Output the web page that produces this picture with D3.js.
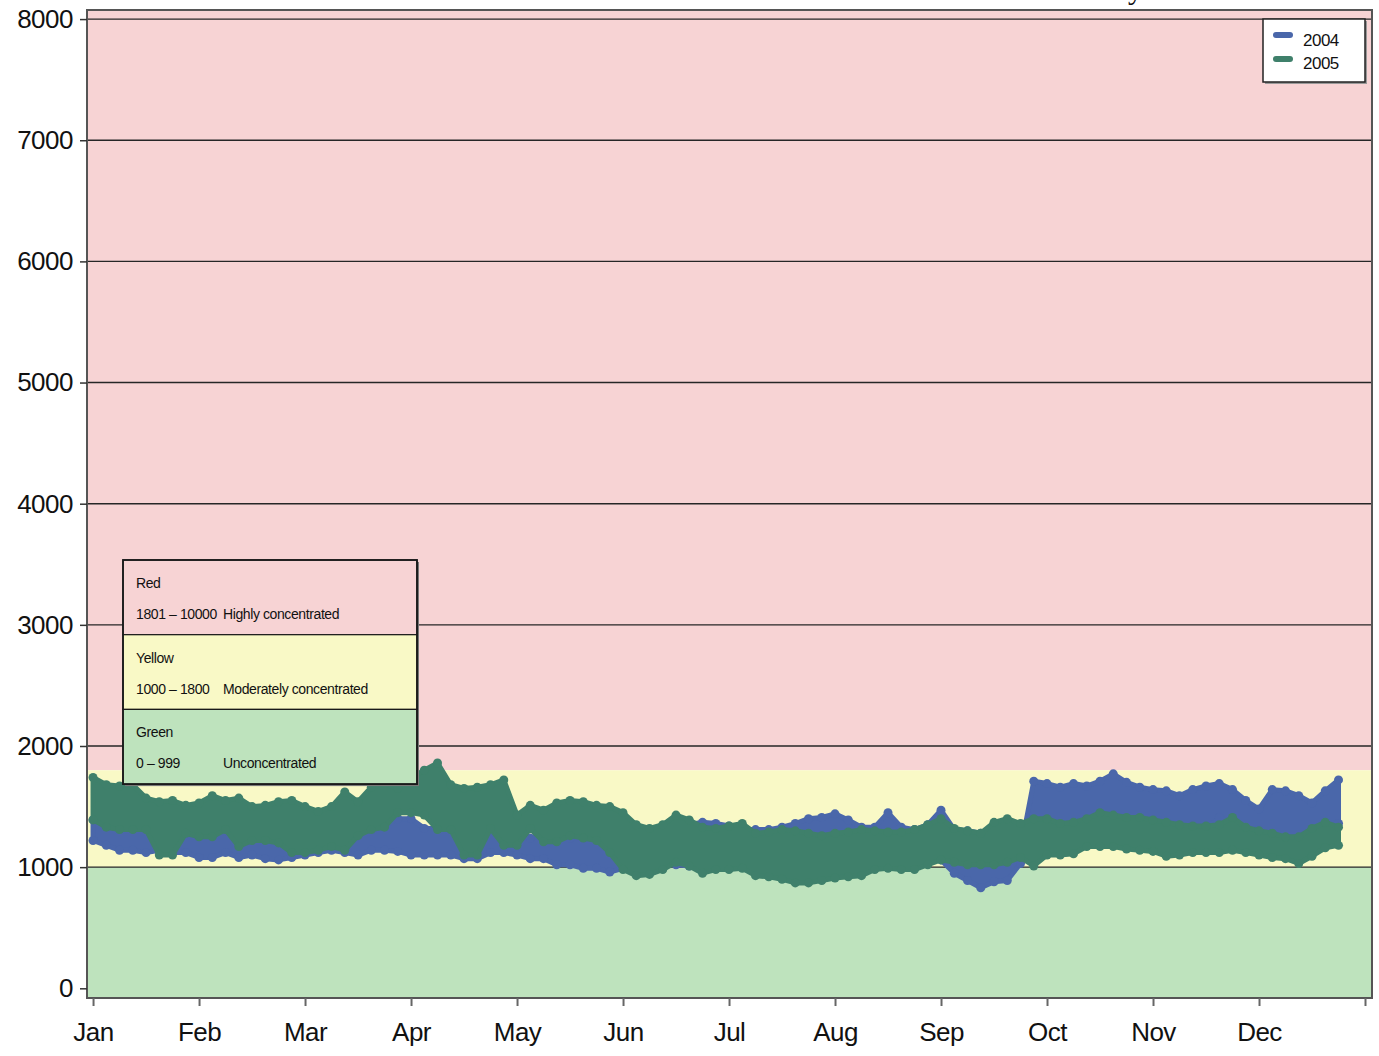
<!DOCTYPE html>
<html>
<head>
<meta charset="utf-8">
<script src="https://cdn.jsdelivr.net/npm/d3@7"></script>
<style>
  body { margin: 0; background: #fff; }
  svg text { font-family: 'Liberation Sans', Arial, sans-serif; fill: #111; }
</style>
</head>
<body>
<svg></svg>
<script>
const WIDTH = 1379;
const HEIGHT = 1056;
const LEFT = 87, RIGHT = 1372, TOP = 10, BOTTOM = 998;

// tick labels
const monthLabels = ['Jan', 'Feb', 'Mar', 'Apr', 'May', 'Jun', 'Jul', 'Aug', 'Sep', 'Oct', 'Nov', 'Dec', ''];
const yTicks = [0, 1000, 2000, 3000, 4000, 5000, 6000, 7000, 8000];

// concentration bands (HHI style)
const bandNames = ['Red', 'Yellow', 'Green'];
const bandRanges = ['1801 \u2013 10000', '1000 \u2013 1800', '0 \u2013 999'];
const bandLabels = ['Highly concentrated', 'Moderately concentrated', 'Unconcentrated'];
const bandLimits = [[1800, 8075], [1000, 1800], [-80, 1000]];

const seriesNames = ['2004', '2005'];

// samples every 1/8 month, Jan 1 .. late Dec; low/high envelope of the dots
const STEP = 0.125;
const hi2004 = [1390,1340,1330,1330,1330,1310,1310,1310,1310,1280,
  1300,1300,1270,1260,1280,1280,1290,1300,1280,1310,
  1310,1310,1340,1400,1400,1320,1320,1320,1310,1320,
  1370,1370,1240,1240,1260,1260,1240,1240,1240,1240,
  1310,1310,1310,1310,1310,1350,1370,1360,1340,1310,
  1310,1310,1330,1360,1400,1410,1440,1390,1330,1330,
  1450,1330,1310,1350,1470,1310,1300,1280,1260,1180,
  1140,1710,1690,1660,1690,1670,1710,1770,1700,1660,
  1640,1630,1590,1640,1670,1690,1640,1550,1480,1640,
  1630,1590,1530,1630,1720];
const lo2004 = [1220,1180,1140,1140,1120,1140,1120,1120,1080,1080,
  1120,1080,1100,1070,1060,1080,1100,1120,1140,1120,
  1100,1140,1140,1130,1100,1100,1100,1100,1070,1070,
  1120,1120,1100,1070,1070,1020,1020,990,990,960,
  990,1010,1010,1030,1020,1010,1000,1020,1020,1020,
  1010,1000,990,980,980,980,980,980,990,1010,
  1020,1030,1040,1050,1060,950,890,830,880,890,
  1030,1330,1330,1360,1350,1340,1360,1350,1330,1330,
  1310,1310,1310,1310,1310,1410,1370,1320,1310,1270,
  1240,1200,1260,1310,1360];
const hi2005 = [1740,1680,1670,1680,1570,1540,1550,1510,1530,1590,
  1550,1570,1500,1510,1540,1550,1500,1460,1500,1620,
  1540,1660,1690,1650,1735,1800,1860,1680,1650,1660,
  1680,1720,1430,1510,1470,1530,1550,1540,1510,1500,
  1450,1350,1320,1350,1430,1390,1330,1320,1340,1360,
  1280,1290,1310,1300,1280,1260,1280,1290,1310,1300,
  1290,1290,1310,1350,1400,1320,1300,1280,1370,1400,
  1360,1400,1400,1360,1370,1400,1450,1430,1410,1410,
  1390,1370,1350,1340,1340,1350,1410,1330,1300,1280,
  1250,1250,1320,1370,1330];
const lo2005 = [1390,1330,1310,1310,1310,1100,1100,1280,1250,1250,
  1310,1170,1220,1220,1200,1120,1120,1140,1170,1140,
  1260,1310,1330,1450,1450,1430,1310,1310,1100,1100,
  1320,1180,1180,1320,1210,1210,1260,1240,1220,1120,
  980,930,940,980,1040,1010,950,980,980,990,
  930,920,900,870,870,890,910,920,930,980,
  990,980,980,1020,1060,1040,1020,1020,1020,1040,
  1080,1010,1100,1100,1110,1170,1170,1170,1150,1140,
  1130,1090,1100,1120,1120,1120,1140,1120,1100,1080,
  1070,1030,1090,1160,1180];

const bandColors = ['#f7d3d4', '#f9f9c6', '#bee3bd'];
const seriesColors = ['#4a67aa', '#3f806b'];

const svg = d3.select('svg').attr('width', WIDTH).attr('height', HEIGHT);

const x = d3.scaleLinear().domain([-0.057, 12.066]).range([LEFT, RIGHT]);
const y = d3.scaleLinear().domain([-80, 8075]).range([BOTTOM, TOP]);

// cut off title descender at the very top
svg.append('text').attr('x', 1128).attr('y', -1)
  .style('font-family', "'Liberation Serif', serif").attr('font-size', 30).text('y');

// background bands
svg.selectAll('rect.band')
  .data(bandLimits)
  .enter()
  .append('rect')
  .attr('class', 'band')
  .attr('x', LEFT)
  .attr('width', RIGHT - LEFT)
  .attr('y', d => y(d[1]))
  .attr('height', d => y(d[0]) - y(d[1]))
  .attr('fill', (d, i) => bandColors[i]);

// gridlines
svg.selectAll('line.grid')
  .data(yTicks.filter(d => d > 0))
  .enter()
  .append('line')
  .attr('class', 'grid')
  .attr('x1', LEFT).attr('x2', RIGHT)
  .attr('y1', d => y(d)).attr('y2', d => y(d))
  .attr('stroke', '#262626')
  .attr('stroke-width', 1.4);

// data: blue first, green on top
const series = [
  {name: seriesNames[0], lo: lo2004, hi: hi2004, color: seriesColors[0]},
  {name: seriesNames[1], lo: lo2005, hi: hi2005, color: seriesColors[1]}
];

const area = d3.area()
  .x((d, i) => x(i * STEP))
  .y0(d => y(d[0]))
  .y1(d => y(d[1]));

for (const s of series) {
  const pts = s.lo.map((v, i) => [v, s.hi[i]]);
  const g = svg.append('g').attr('class', 'series');
  g.append('path')
    .attr('d', area(pts))
    .attr('fill', s.color)
    .attr('stroke', s.color)
    .attr('stroke-width', 5)
    .attr('stroke-linejoin', 'round');
  g.selectAll('circle')
    .data(pts.flatMap((d, i) => [[i, d[0]], [i, d[1]]]))
    .enter()
    .append('circle')
    .attr('cx', d => x(d[0] * STEP))
    .attr('cy', d => y(d[1]))
    .attr('r', 4.5)
    .attr('fill', s.color);
}

// plot frame
svg.append('rect')
  .attr('x', LEFT).attr('y', TOP)
  .attr('width', RIGHT - LEFT).attr('height', BOTTOM - TOP)
  .attr('fill', 'none')
  .attr('stroke', '#555')
  .attr('stroke-width', 2);

// axes
const yAxis = svg.append('g')
  .attr('transform', `translate(${LEFT},0)`)
  .call(d3.axisLeft(y).tickValues(yTicks).tickSize(7).tickPadding(7).tickFormat(d3.format('d')));
yAxis.select('.domain').remove();
yAxis.selectAll('line').attr('stroke', '#333').attr('stroke-width', 1.5);
yAxis.selectAll('text').attr('font-size', 26).style('letter-spacing', '-0.5px');

const xAxis = svg.append('g')
  .attr('transform', `translate(0,${BOTTOM})`)
  .call(d3.axisBottom(x).tickValues(d3.range(13)).tickSize(8).tickPadding(17)
    .tickFormat((d, i) => monthLabels[i]));
xAxis.select('.domain').remove();
xAxis.selectAll('line').attr('stroke', '#666').attr('stroke-width', 2);
xAxis.selectAll('text').attr('font-size', 26).style('letter-spacing', '-0.5px');

// series legend (top right)
const leg = svg.append('g').attr('transform', 'translate(1263,19)');
leg.append('rect').attr('x', 2).attr('y', 2).attr('width', 102).attr('height', 63).attr('fill', '#999');
leg.append('rect').attr('width', 102).attr('height', 63)
  .attr('fill', '#fff').attr('stroke', '#222').attr('stroke-width', 1.5);
seriesNames.forEach((name, i) => {
  leg.append('rect')
    .attr('x', 10).attr('y', 13 + i * 24)
    .attr('width', 20).attr('height', 6).attr('rx', 3)
    .attr('fill', seriesColors[i]);
  leg.append('text')
    .attr('x', 40).attr('y', 27 + i * 23)
    .attr('font-size', 17)
    .style('letter-spacing', '-0.5px')
    .text(name);
});

// band legend (inside plot)
const bl = svg.append('g').attr('transform', 'translate(123,560)');
const BOX_W = 294, ROW_H = 74.7;
bl.append('rect').attr('x', 2).attr('y', 2).attr('width', BOX_W).attr('height', ROW_H * 3).attr('fill', '#777');
bandNames.forEach((name, i) => {
  const row = bl.append('g').attr('transform', `translate(0,${i * ROW_H})`);
  row.append('rect')
    .attr('width', BOX_W).attr('height', ROW_H)
    .attr('fill', bandColors[i])
    .attr('stroke', '#1a1a1a').attr('stroke-width', 1.2);
  row.append('text').attr('x', 13).attr('y', 28).attr('font-size', 14).style('letter-spacing', '-0.4px').text(name);
  row.append('text').attr('x', 13).attr('y', 59).attr('font-size', 14).style('letter-spacing', '-0.4px').text(bandRanges[i]);
  row.append('text').attr('x', 100).attr('y', 59).attr('font-size', 14).style('letter-spacing', '-0.4px').text(bandLabels[i]);
});
bl.append('rect').attr('width', BOX_W).attr('height', ROW_H * 3)
  .attr('fill', 'none').attr('stroke', '#1a1a1a').attr('stroke-width', 1.8);
</script>
</body>
</html>
